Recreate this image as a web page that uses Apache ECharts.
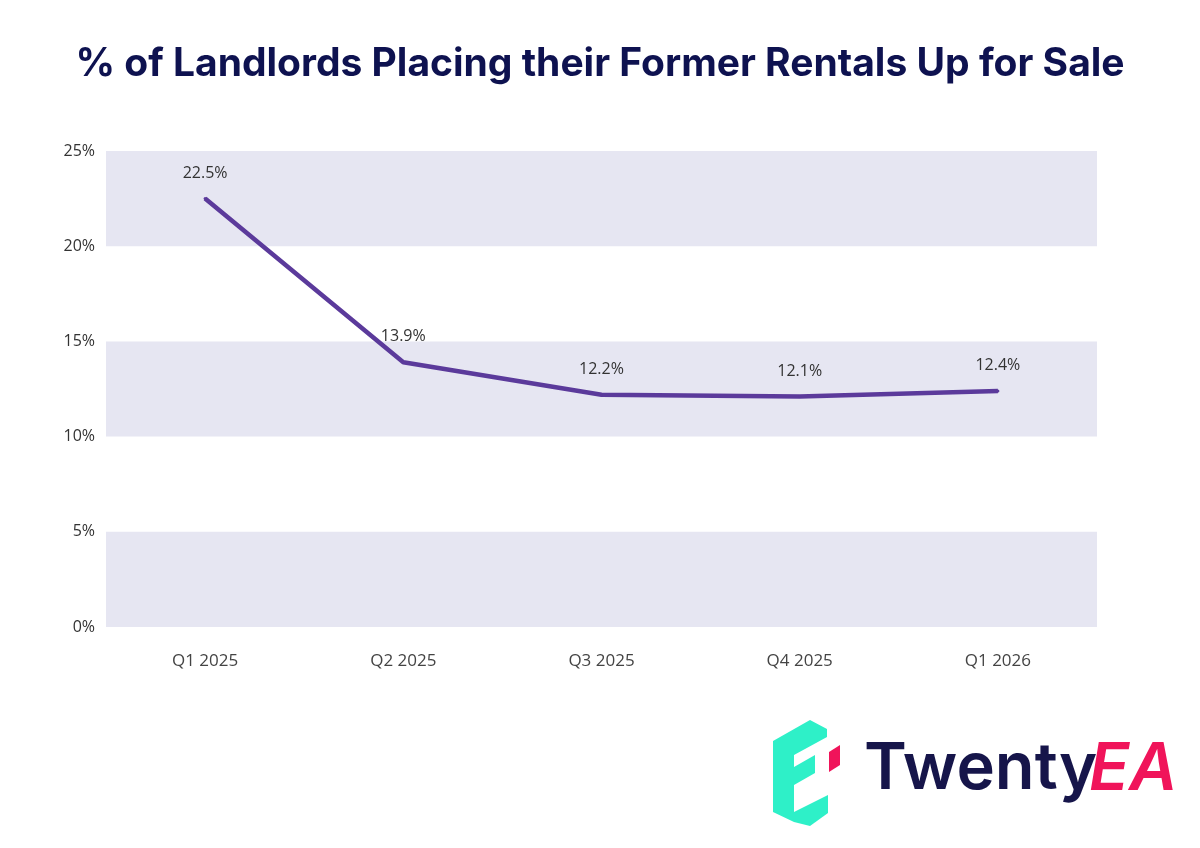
<!DOCTYPE html>
<html>
<head>
<meta charset="utf-8"/>
<title>Landlords placing former rentals up for sale</title>
<script src="https://cdn.jsdelivr.net/npm/echarts@6/dist/echarts.min.js"></script>
<style>
html,body{margin:0;padding:0;background:#fff;}
#main{width:1200px;height:848px;}
</style>
</head>
<body>
<div id="main"></div>
<script>
// chart data
var quarters = ['Q1 2025', 'Q2 2025', 'Q3 2025', 'Q4 2025', 'Q1 2026'];
var sharePct = [22.5, 13.9, 12.2, 12.1, 12.4];
var yTicks = [0, 5, 10, 15, 20, 25];

var titleText = '% of Landlords Placing their Former Rentals Up for Sale';

var myChart = echarts.init(document.getElementById('main'));

var option = {
    backgroundColor: '#ffffff',
    animation: false,
    title: {
        text: titleText,
        left: 'center',
        top: 40,
        textStyle: {
            fontFamily: 'Inter',
            fontWeight: 'bold',
            fontSize: 39,
            color: '#0e1250'
        }
    },
    grid: {
        left: 106,
        right: 103,
        top: 151,
        bottom: 221
    },
    xAxis: {
        type: 'category',
        data: quarters,
        boundaryGap: true,
        axisLine: {show: false},
        axisTick: {show: false},
        axisLabel: {
            margin: 26,
            fontFamily: 'Open Sans',
            fontWeight: 500,
            fontSize: 17,
            color: '#444444'
        }
    },
    yAxis: {
        type: 'value',
        min: yTicks[0],
        max: yTicks[yTicks.length - 1],
        interval: 5,
        axisLine: {show: false},
        axisTick: {show: false},
        splitLine: {show: false},
        splitArea: {
            show: true,
            areaStyle: {color: ['#e6e6f2', 'rgba(255,255,255,0)']}
        },
        axisLabel: {
            formatter: '{value}%',
            margin: 11,
            fontFamily: 'Open Sans',
            fontWeight: 500,
            fontSize: 16,
            color: '#333333'
        }
    },
    series: [{
        name: 'share',
        type: 'line',
        data: sharePct,
        symbol: 'circle',
        symbolSize: 3,
        showSymbol: true,
        itemStyle: {color: '#5b3a9b'},
        lineStyle: {color: '#5b3a9b', width: 4.5},
        label: {
            show: true,
            position: 'top',
            distance: 16,
            formatter: '{c}%',
            fontFamily: 'Open Sans',
            fontWeight: 500,
            fontSize: 16,
            color: '#333333'
        }
    }],
    graphic: [
        // logo mark
        {type: 'polygon', shape: {points: [[773,741],[810,720],[827,729],[827,737],[794,755],[794,822],[773,812]]}, style: {fill: '#2ef0c8'}},
        {type: 'polygon', shape: {points: [[794,767],[815,755],[815,773],[794,785]]}, style: {fill: '#2ef0c8'}},
        {type: 'polygon', shape: {points: [[794,812],[828,795],[828,813],[810,826],[794,822]]}, style: {fill: '#2ef0c8'}},
        {type: 'polygon', shape: {points: [[829,752],[840,745],[840,765],[829,772]]}, style: {fill: '#f0145a'}},
        {type: 'text', left: 864, top: 737, style: {text: 'Twenty', font: '600 65px Inter', fill: '#16154a'}},
        {type: 'text', left: 1089, top: 737, style: {text: 'EA', font: 'italic 600 66px Inter', fill: '#f0145a'}}
    ]
};

myChart.setOption(option);
</script>
</body>
</html>
